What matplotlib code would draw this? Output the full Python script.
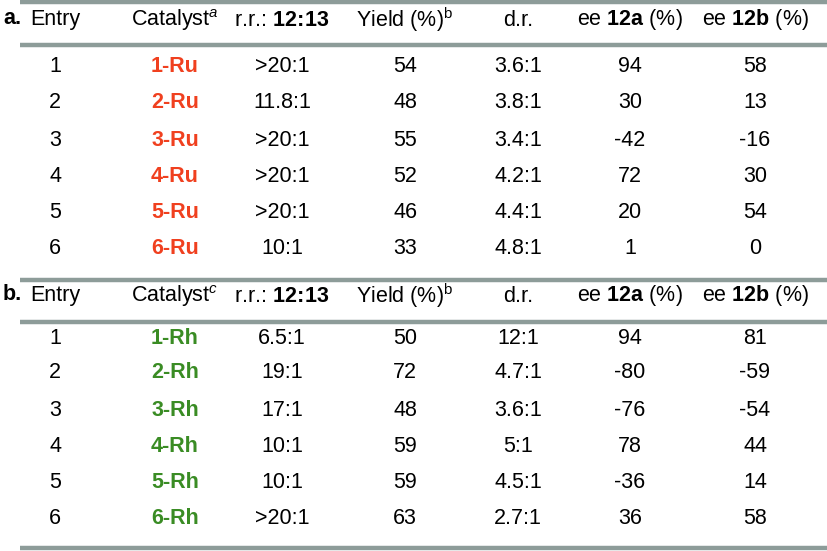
import matplotlib
matplotlib.use("Agg")
import matplotlib.pyplot as plt

plt.rcParams['font.family'] = ['Liberation Sans', 'DejaVu Sans']
plt.rcParams['mathtext.fontset'] = 'custom'
plt.rcParams['mathtext.rm'] = 'Liberation Sans'
plt.rcParams['mathtext.it'] = 'Liberation Sans:italic'
plt.rcParams['mathtext.bf'] = 'Liberation Sans:bold'

headers_a = ["Entry", r"Catalyst$^{\mathit{a}}$", r"r.r.: $\mathbf{12\!:\!13}$", r"Yield (%)$^{\mathrm{b}}$",
             "d.r.", r"ee $\mathbf{12a}$ (%)", r"ee $\mathbf{12b}$ (%)"]
headers_b = ["Entry", r"Catalyst$^{\mathit{c}}$", r"r.r.: $\mathbf{12\!:\!13}$", r"Yield (%)$^{\mathrm{b}}$",
             "d.r.", r"ee $\mathbf{12a}$ (%)", r"ee $\mathbf{12b}$ (%)"]

entries = ["1", "2", "3", "4", "5", "6"]
cat_a = ["1-Ru", "2-Ru", "3-Ru", "4-Ru", "5-Ru", "6-Ru"]
rr_a = [">20:1", "11.8:1", ">20:1", ">20:1", ">20:1", "10:1"]
yield_a = ["54", "48", "55", "52", "46", "33"]
dr_a = ["3.6:1", "3.8:1", "3.4:1", "4.2:1", "4.4:1", "4.8:1"]
ee12a_a = ["94", "30", "-42", "72", "20", "1"]
ee12b_a = ["58", "13", "-16", "30", "54", "0"]

cat_b = ["1-Rh", "2-Rh", "3-Rh", "4-Rh", "5-Rh", "6-Rh"]
rr_b = ["6.5:1", "19:1", "17:1", "10:1", "10:1", ">20:1"]
yield_b = ["50", "72", "48", "59", "59", "63"]
dr_b = ["12:1", "4.7:1", "3.6:1", "5:1", "4.5:1", "2.7:1"]
ee12a_b = ["94", "-80", "-76", "78", "-36", "36"]
ee12b_b = ["81", "-59", "-54", "44", "14", "58"]

fig = plt.figure(figsize=(8.27, 5.51), dpi=100)
ax = fig.add_axes([0, 0, 1, 1])
ax.set_xlim(0, 827)
ax.set_ylim(551, 0)
ax.axis('off')

xs = [55, 175, 282, 405, 518, 630, 755]
linec = '#8d9c99'
fs = 15.5

def block(label, y_head, y_rows, headers, cols, catcolor, y_top, y_mid):
    ax.plot([20, 827], [y_top, y_top], color=linec, lw=3.2, solid_capstyle='butt')
    ax.plot([20, 827], [y_mid, y_mid], color=linec, lw=3.2, solid_capstyle='butt')
    ax.text(3, y_head - 2, label, fontsize=fs, fontweight='bold', ha='left', va='center')
    for x, h in zip(xs, headers):
        ax.text(x, y_head, h, fontsize=fs, ha='center', va='center')
    for i, y in enumerate(y_rows):
        for j, (x, col) in enumerate(zip(xs, cols)):
            if j == 1:
                ax.text(x, y, col[i], fontsize=fs, ha='center', va='center',
                        color=catcolor, fontweight='bold')
            else:
                ax.text(x, y, col[i], fontsize=fs, ha='center', va='center')

block("a.", 20, [67, 103, 140, 176, 212, 248], headers_a,
      [entries, cat_a, rr_a, yield_a, dr_a, ee12a_a, ee12b_a], '#f0401f', 2, 45)
block("b.", 296, [338, 373, 410, 446, 482, 518], headers_b,
      [entries, cat_b, rr_b, yield_b, dr_b, ee12a_b, ee12b_b], '#3a8c24', 280, 322)
ax.plot([20, 827], [548, 548], color=linec, lw=3.2, solid_capstyle='butt')

fig.savefig("out.png", dpi=100)
